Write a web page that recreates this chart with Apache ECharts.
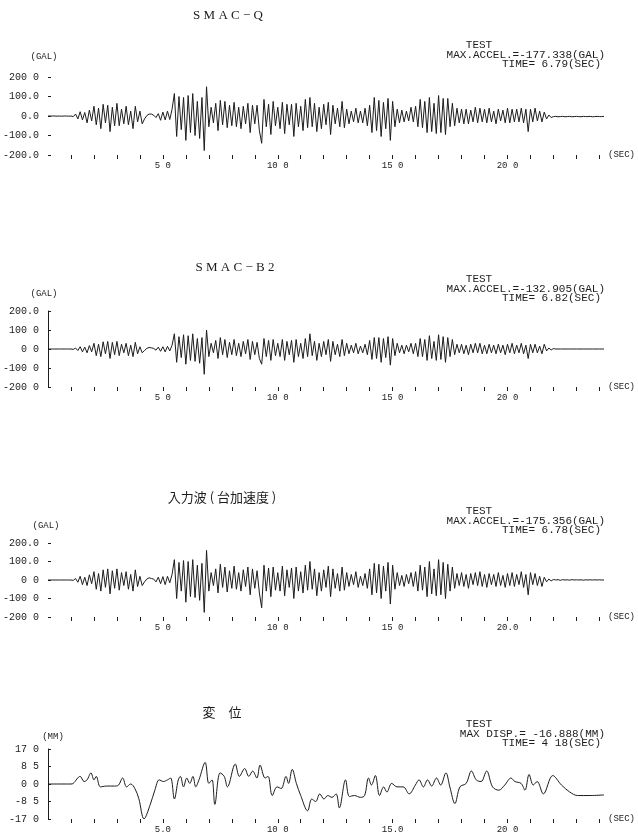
<!DOCTYPE html>
<html><head><meta charset="utf-8">
<script src="https://cdn.jsdelivr.net/npm/echarts@6/dist/echarts.min.js"></script>
<style>html,body{margin:0;padding:0;background:#fff}#c{width:638px;height:839px}</style>
</head><body><div id="c"></div>
<script>
// sampling step of the acceleration records (s)
const dt = 0.1;

// SMAC-Q acceleration (GAL), t = 0.0 .. 24.2 s
const accQ = [
 0,0,0,0,-1,0,-1,0,0,-1,0,-3,
 10,-15,22,-20,18,-35,30,-25,
 50,-45,40,-65,60,-35,55,-80,45,-50,
 65,-50,35,-40,50,-45,25,-65,50,-30,
 25,-40,-15,2,10,10,4,-8,12,-22,
 20,-20,25,-18,35,115,-105,100,-70,95,
 -125,105,-85,115,-100,75,-115,95,-177,150,
 -55,45,-35,65,-75,80,-45,75,-60,55,
 -50,70,-55,45,-65,50,-40,65,-85,55,
 -40,55,-75,-140,85,-55,60,-95,75,-50,
 45,-65,70,-90,60,-45,60,-105,65,-55,
 50,-75,85,-60,95,-55,65,-80,45,-65,
 60,-45,70,-95,55,-40,40,-55,75,-60,
 35,-40,25,-30,40,-35,25,-35,40,-50,
 55,-85,95,-75,80,-105,70,-65,90,-125,
 75,-55,35,-35,30,-30,25,-25,45,-30,
 50,-55,85,-60,75,-85,95,-80,65,-90,
 105,-85,90,-95,90,-55,65,-50,40,-35,
 35,-40,35,-40,30,-30,45,-35,40,-30,
 35,-35,40,-30,25,-40,35,-25,30,-35,
 40,-35,35,-30,35,-30,40,-35,35,-80,
 35,-30,40,-25,25,-30,20,-15,5,-8,
 -3,-2,-4,-3,-2,-4,-3,-2,-4,-3,
 -2,-3,-4,-2,-3,-3,-2,-4,-3,-2,-3,-3,-2
];

// SMAC-B2 acceleration (GAL)
const accB2 = [
 0,0,0,0,0,0,0,0,0,0,0,-2,
 5,-8,12,-15,10,-20,18,-15,
 30,-35,25,-40,38,-25,40,-50,35,-30,
 40,-35,25,-20,30,-35,20,-40,35,-25,
 12,-20,-8,3,8,6,3,-6,10,-12,
 12,-15,14,-10,20,80,-70,65,-45,75,
 -80,70,-60,80,-65,55,-75,60,-133,100,
 -40,30,-20,45,-50,60,-30,50,-45,35,
 -30,50,-35,30,-40,40,-25,50,-55,40,
 -30,35,-50,-80,55,-40,45,-60,50,-35,
 30,-40,50,-60,40,-30,45,-70,50,-40,
 30,-50,55,-40,80,-35,40,-60,30,-40,
 40,-30,50,-65,40,-30,25,-40,50,-35,
 30,-25,20,-20,30,-25,15,-20,25,-30,
 45,-55,60,-50,60,-70,55,-45,65,-85,
 55,-35,30,-20,20,-25,20,-15,30,-25,
 30,-40,55,-40,50,-60,70,-50,40,-60,
 75,-55,65,-70,60,-40,50,-30,25,-20,
 25,-25,20,-30,25,-20,30,-20,30,-25,
 20,-25,25,-20,20,-25,25,-20,20,-30,
 25,-20,30,-25,20,-20,30,-25,20,-50,
 25,-20,25,-20,15,-25,25,-10,5,-5,
 2,0,0,0,0,0,0,0,0,0,
 0,0,0,0,0,0,0,0,0,0,0,0,0
];

// input wave (table acceleration, GAL)
const accIn = [
 0,0,0,0,0,0,0,0,0,0,0,-2,
 8,-12,20,-25,15,-30,28,-20,
 45,-50,35,-60,55,-40,60,-75,50,-45,
 60,-55,40,-30,45,-50,30,-60,55,-35,
 20,-30,-10,5,12,8,5,-10,15,-20,
 18,-25,20,-15,30,110,-100,95,-60,105,
 -120,100,-90,110,-95,80,-110,90,-175,160,
 -60,40,-30,60,-70,85,-40,70,-65,50,
 -45,75,-50,40,-60,55,-35,70,-80,60,
 -45,50,-70,-150,80,-60,65,-90,70,-55,
 40,-60,75,-85,55,-40,65,-100,70,-60,
 45,-70,80,-55,100,-50,60,-85,40,-60,
 55,-40,75,-90,60,-45,35,-60,70,-55,
 40,-35,30,-25,45,-40,20,-30,35,-45,
 60,-80,90,-70,85,-100,75,-60,95,-130,
 80,-50,40,-30,25,-35,30,-20,40,-35,
 45,-60,80,-55,70,-90,100,-75,60,-85,
 110,-80,95,-100,85,-60,70,-45,35,-30,
 40,-35,30,-45,35,-25,40,-30,45,-35,
 30,-40,35,-25,30,-35,40,-30,25,-40,
 35,-30,40,-35,30,-25,45,-40,30,-80,
 40,-25,35,-30,20,-35,15,-10,5,-5,
 3,0,2,-2,2,0,1,-1,2,0,
 1,0,1,-1,1,0,1,0,1,0,1,0,0
];

// displacement (MM): read points, time (s) and value
const dispT = [0,1.0,1.1,1.4,1.57,1.7,1.87,2.0,2.1,2.28,2.54,2.9,3.07,3.25,3.42,3.6,3.78,3.95,4.18,4.45,4.65,4.84,5.02,5.2,5.34,5.5,5.67,5.76,5.9,6.04,6.17,6.31,6.43,6.57,6.84,7.0,7.14,7.26,7.49,7.67,7.81,8.15,8.33,8.56,8.74,8.91,9.09,9.23,9.45,9.58,9.76,9.97,10.15,10.36,10.47,10.63,10.81,11.0,11.3,11.48,11.65,11.83,12.01,12.18,12.36,12.54,12.68,12.95,13.12,13.34,13.6,13.78,13.95,14.08,14.25,14.43,14.61,14.75,14.96,15.19,15.46,15.72,15.99,16.15,16.34,16.52,16.7,16.91,17.09,17.32,17.49,17.71,17.93,18.2,18.43,18.64,18.85,19.09,19.35,19.62,19.88,20.15,20.32,20.59,20.76,20.94,21.12,21.29,21.56,21.97,22.35,22.71,23.05,23.6,24.2];
const dispV = [0,0,0.3,3.7,1.2,2,5.4,2,3.7,-1.4,-1,-1,-0.5,2.9,-1.4,0,-2.2,-7,-16.9,-10,-3,2,1.2,2,2.9,-7.3,2,3.7,-1.4,2.9,0.3,3.7,-1.4,2,10.5,0.3,2,-9.9,5.4,3.7,-1.4,9.7,3.7,7.5,3.7,6.3,2.9,9.2,2.9,3.7,-5.6,-1.4,-2.2,3.7,0.3,7.1,0.3,-5.6,-13,-7.3,-8.5,-4.8,-7.3,-5.6,-6.5,-4.8,-11.6,2,-6.1,-5.6,-6.5,-5.6,2.9,-0.5,4.1,-5.6,-1.4,-3.9,0.3,-1.4,-1.4,-4.8,-0.5,2,-1.4,2,-1,2.9,-0.5,5.4,-1.4,-9.5,-1.4,0.3,6.3,2,1.2,6.3,-1.4,-3,-0.5,2.9,1.2,0.3,-3,4.6,-0.5,1.2,-4.8,4.1,-0.5,-3.9,-5.6,-5.6,-5.3];

// tick labels as printed
const xTickSec = [1,2,3,4,5,6,7,8,9,10,11,12,13,14,15,16,17,18,19,20,21,22,23,24];
const xLabelSec = [5,10,15,20];
const xLabels = [
  ['5 0','10 0','15 0','20 0'],
  ['5 0','10 0','15 0','20 0'],
  ['5 0','10 0','15 0','20.0'],
  ['5.0','10 0','15.0','20 0']
];
const yTicksAcc = [-200,-100,0,100,200];
const yTicksDisp = [-17,-8.5,0,8.5,17];
const yLabels = [
  ['-200.0','-100.0','0.0','100.0','200 0'],
  ['-200 0','-100 0','0 0','100 0','200.0'],
  ['-200 0','-100 0','0 0','100.0','200.0'],
  ['-17 0','-8 5','0 0','8 5','17 0']
];
const titles = ['S M A C − Q','S M A C − B 2','入力波 ( 台加速度 )','変　位'];
const units = ['(GAL)','(GAL)','(GAL)','(MM)'];
const maxLines = ['MAX.ACCEL.=-177.338(GAL)','MAX.ACCEL.=-132.905(GAL)','MAX.ACCEL.=-175.356(GAL)','MAX DISP.= -16.888(MM)'];
const timeLines = ['TIME= 6.79(SEC)','TIME= 6.82(SEC)','TIME= 6.78(SEC)','TIME= 4 18(SEC)'];

const accSeries = [accQ, accB2, accIn];

// layout
const grids = [
  {top:77, height:78},
  {top:311, height:76},
  {top:543, height:74},
  {top:749, height:70}
];
const head = [
  {title:[228,16], test:45, max:55, time:64, unit:[44,57]},
  {title:[235,268], test:279, max:289, time:298, unit:[44,294]},
  {title:[222,497], test:511, max:521, time:530, unit:[46,526]},
  {title:[222,712], test:724, max:734, time:743, unit:[53,737]}
];

const mono = 'Liberation Mono, DejaVu Sans Mono, monospace';
const ink = '#1c1c1c';

const option = {
  backgroundColor:'#fff',
  animation:false,
  grid: grids.map(g => ({left:48, right:34, top:g.top, height:g.height, containLabel:false})),
  xAxis: grids.map((g,i) => ({
    type:'value', gridIndex:i, min:0, max:24.2,
    name:'(SEC)', nameLocation:'end', nameGap:4,
    nameTextStyle:{color:ink, fontFamily:mono, fontSize:9, verticalAlign:'middle', padding:[5,0,0,0]},
    axisLine:{show:false, onZero:false},
    axisTick:{show:true, customValues:xTickSec, length:4, lineStyle:{color:ink, width:1}},
    axisLabel:{show:true, customValues:xLabelSec, margin:6, color:ink, fontFamily:mono, fontSize:9,
      formatter:v => xLabels[i][xLabelSec.indexOf(Math.round(v))]},
    splitLine:{show:false}
  })),
  yAxis: grids.map((g,i) => {
    const ticks = i===3 ? yTicksDisp : yTicksAcc;
    return {
      type:'value', gridIndex:i, min:ticks[0], max:ticks[4], interval:ticks[1]-ticks[0],
      axisLine:{show:(i===1||i===3), onZero:false, lineStyle:{color:ink, width:1}},
      axisTick:{show:true, inside:true, length:3, lineStyle:{color:ink}},
      axisLabel:{color:ink, fontFamily:mono, fontSize:10, margin:9,
        formatter:v => { const k = ticks.findIndex(t => Math.abs(t-v)<1e-6); return k<0?'':yLabels[i][k]; }},
      splitLine:{show:false}
    };
  }),
  series: [
    ...accSeries.map((arr,i) => ({
      type:'line', xAxisIndex:i, yAxisIndex:i, showSymbol:false, smooth:false,
      lineStyle:{color:ink, width:1}, data:arr.map((v,k) => [+(k*dt).toFixed(2), v])
    })),
    {type:'line', xAxisIndex:3, yAxisIndex:3, showSymbol:false, smooth:0.35,
      lineStyle:{color:ink, width:1}, data:dispT.map((t,k) => [t, dispV[k]])}
  ],
  graphic: head.flatMap((h,i) => [
    {type:'text', x:h.title[0], y:h.title[1], silent:true,
      style:{text:titles[i], fill:ink, font: (i<2 ? '13px Liberation Serif, serif' : '13px Noto Sans CJK JP'), align:'center', verticalAlign:'middle'}},
    {type:'text', x:479, y:h.test, silent:true, style:{text:'TEST', fill:ink, font:'11px '+mono, align:'center', verticalAlign:'middle'}},
    {type:'text', x:605, y:h.max, silent:true, style:{text:maxLines[i], fill:ink, font:'11px '+mono, align:'right', verticalAlign:'middle'}},
    {type:'text', x:601, y:h.time, silent:true, style:{text:timeLines[i], fill:ink, font:'11px '+mono, align:'right', verticalAlign:'middle'}},
    {type:'text', x:h.unit[0], y:h.unit[1], silent:true, style:{text:units[i], fill:ink, font:'9px '+mono, align:'center', verticalAlign:'middle'}}
  ])
};

const chart = echarts.init(document.getElementById('c'), null, {renderer:'canvas'});
chart.setOption(option);
</script>
</body></html>
